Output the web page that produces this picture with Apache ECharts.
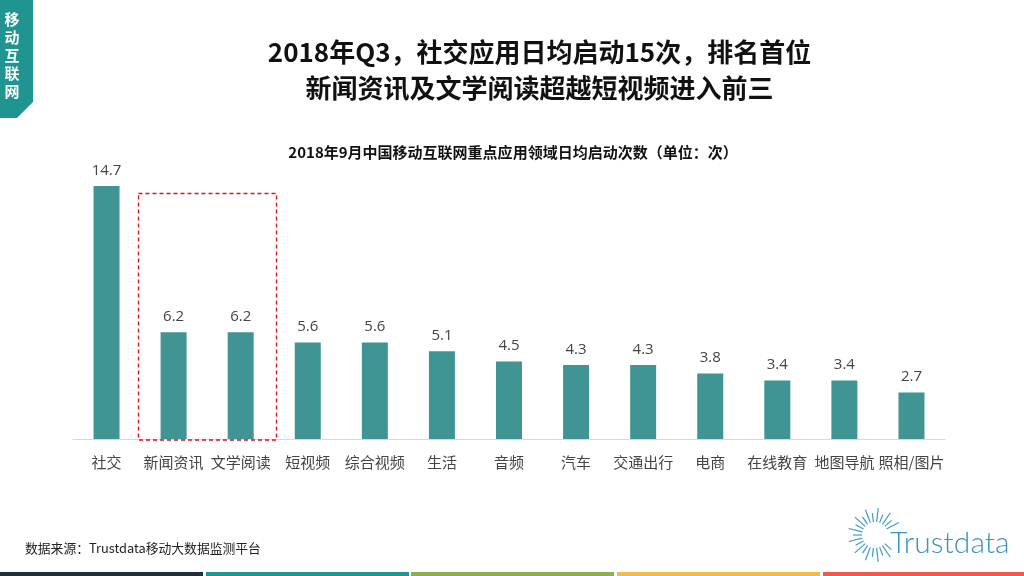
<!DOCTYPE html>
<html>
<head>
<meta charset="utf-8">
<style>
  html, body { margin: 0; padding: 0; background: #fff; }
  #main { width: 1024px; height: 576px; }
</style>
<script src="https://cdn.jsdelivr.net/npm/echarts@6/dist/echarts.min.js"></script>
</head>
<body>
<div id="main"></div>
<script>
var categories = ['社交', '新闻资讯', '文学阅读', '短视频', '综合视频', '生活', '音频', '汽车', '交通出行', '电商', '在线教育', '地图导航', '照相/图片'];
var startCounts = [14.7, 6.2, 6.2, 5.6, 5.6, 5.1, 4.5, 4.3, 4.3, 3.8, 3.4, 3.4, 2.7];
var headline = ['2018年Q3，社交应用日均启动15次，排名首位', '新闻资讯及文学阅读超越短视频进入前三'];
var chartTitle = '2018年9月中国移动互联网重点应用领域日均启动次数（单位：次）';
var source = '数据来源：Trustdata移动大数据监测平台';
var sideTag = ['移', '动', '互', '联', '网'];
var stripeColors = ['#1f2f3f', '#1f9490', '#8db04f', '#f3b94d', '#f05a4a'];

var font = '"Noto Sans CJK SC", "Noto Sans", sans-serif';
var numFont = '"Open Sans", "Noto Sans CJK SC", sans-serif';

var graphics = [];

// 左上角标签
graphics.push({
  type: 'polygon',
  shape: { points: [[0, 0], [33, 0], [33, 102], [17, 118], [0, 118]] },
  style: { fill: '#1f9490' }
});
sideTag.forEach(function (ch, i) {
  graphics.push({
    type: 'text', x: 12, y: 19 + i * 18,
    style: { text: ch, fill: '#fff', font: 'bold 15px ' + font, textAlign: 'center', textVerticalAlign: 'middle' }
  });
});

// 标题
headline.forEach(function (t, i) {
  graphics.push({
    type: 'text', x: 539.5, y: 52 + i * 36,
    style: { text: t, fill: '#111', font: 'bold 26px ' + font, textAlign: 'center', textVerticalAlign: 'middle' }
  });
});
graphics.push({
  type: 'text', x: 513, y: 152,
  style: { text: chartTitle, fill: '#111', font: 'bold 15px ' + font, textAlign: 'center', textVerticalAlign: 'middle' }
});

// 红色虚线框
graphics.push({
  type: 'rect',
  shape: { x: 138.5, y: 193.5, width: 138, height: 246.5 },
  style: { fill: 'none', stroke: '#e0101f', lineWidth: 1.3, lineDash: [4, 3] },
  z: 10
});

// 数据来源
graphics.push({
  type: 'text', x: 25, y: 548,
  style: { text: source, fill: '#222', font: '12.8px ' + font, textVerticalAlign: 'middle' }
});

// 底部色条
var stripeX = [0, 206, 411, 617, 823];
var stripeW = [203, 203, 203, 203, 201];
stripeColors.forEach(function (c, i) {
  graphics.push({
    type: 'rect',
    shape: { x: stripeX[i], y: 572, width: stripeW[i], height: 4 },
    style: { fill: c }
  });
});

// logo 放射线，右侧让开文字
for (var i = 0; i < 26; i++) {
  var a = i / 26 * Math.PI * 2;
  if (i >= 0 && i < 3 || i === 25) continue;
  var inner = 13;
  var outer = (i % 2 === 0) ? 27 : 22;
  graphics.push({
    type: 'line',
    shape: {
      x1: 875 + Math.cos(a) * inner, y1: 535 + Math.sin(a) * inner,
      x2: 875 + Math.cos(a) * outer, y2: 535 + Math.sin(a) * outer
    },
    style: { stroke: '#3f9cc6', lineWidth: 1.2 }
  });
}
graphics.push({
  type: 'text', x: 890, y: 543,
  style: { text: 'Trustdata', fill: '#3a93bd', font: '300 30px "Lato", sans-serif', textVerticalAlign: 'middle' }
});

var myChart = echarts.init(document.getElementById('main'), null, { renderer: 'canvas' });
myChart.setOption({
  animation: false,
  backgroundColor: '#fff',
  grid: { left: 73, top: 186, width: 872, height: 253 },
  xAxis: {
    type: 'category',
    data: categories,
    axisTick: { show: false },
    axisLine: { lineStyle: { color: '#d9d9d9', width: 1 } },
    axisLabel: { interval: 0, color: '#444', fontSize: 15, fontFamily: font, margin: 16 }
  },
  yAxis: { type: 'value', min: 0, max: 14.7, show: false, splitLine: { show: false } },
  series: [{
    type: 'bar',
    data: startCounts,
    barWidth: 26,
    itemStyle: { color: '#409494' },
    label: {
      show: true, position: 'top', distance: 8,
      color: '#444', fontSize: 15, fontFamily: numFont,
      formatter: function (p) { return p.value.toFixed(1); }
    }
  }],
  graphic: { elements: graphics }
});
</script>
</body>
</html>
